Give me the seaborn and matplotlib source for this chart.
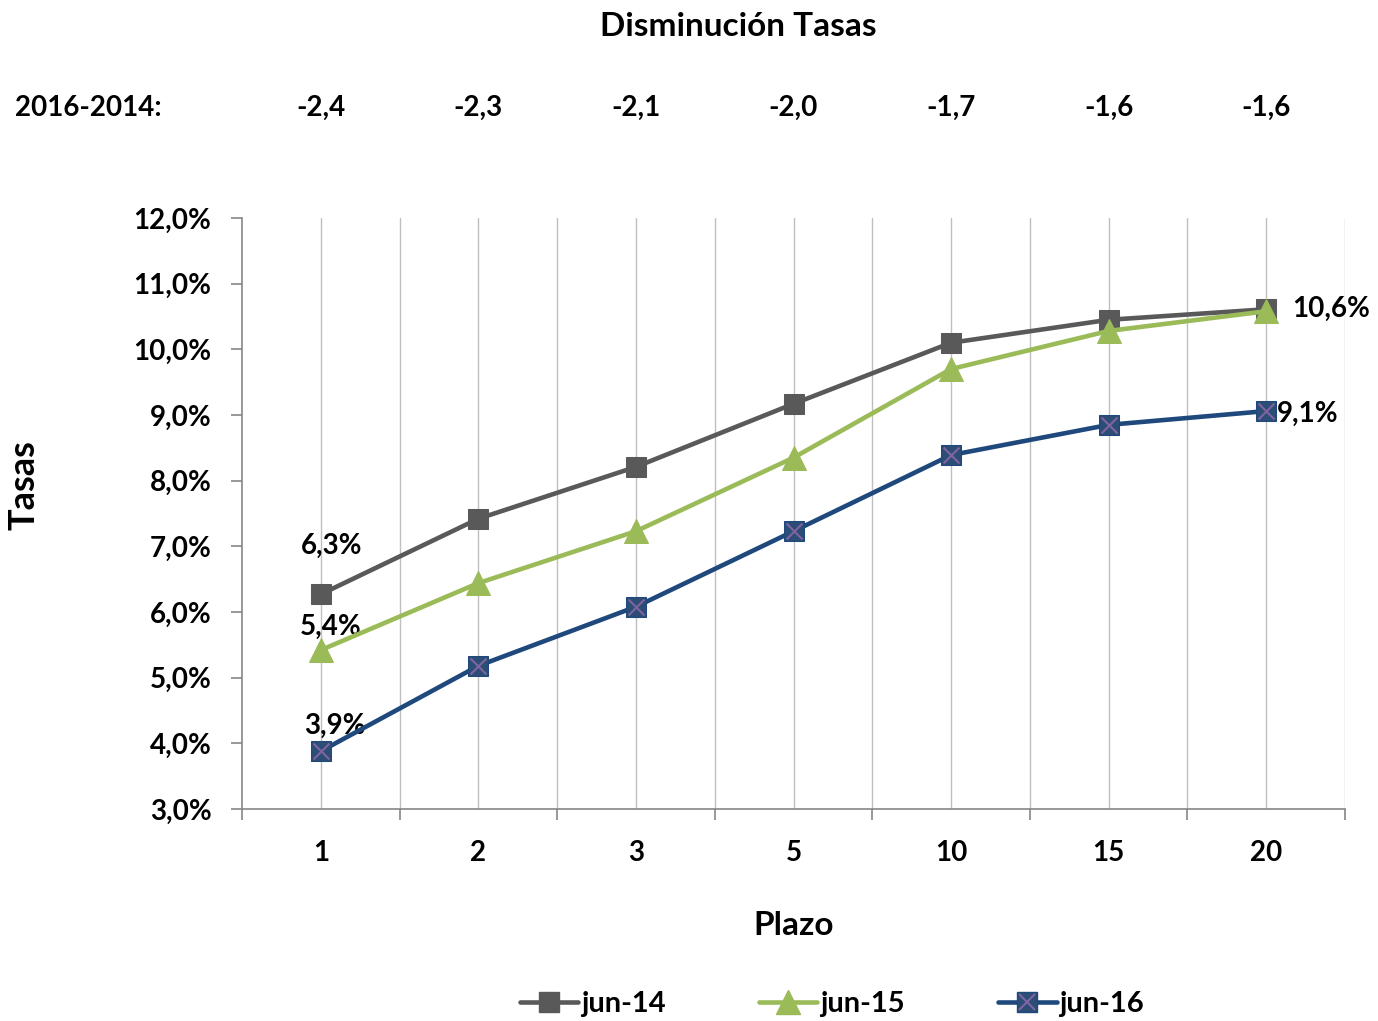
import matplotlib
matplotlib.use("Agg")
import matplotlib.pyplot as plt
import matplotlib.transforms as mtransforms
from matplotlib.lines import Line2D
import seaborn as sns
import pandas as pd

plazos = ["1", "2", "3", "5", "10", "15", "20"]
jun14 = [6.27, 7.42, 8.21, 9.17, 10.10, 10.45, 10.61]
jun15 = [5.42, 6.44, 7.23, 8.35, 9.70, 10.28, 10.58]
jun16 = [3.88, 5.18, 6.08, 7.23, 8.39, 8.85, 9.06]
diff_labels = ["-2,4", "-2,3", "-2,1", "-2,0", "-1,7", "-1,6", "-1,6"]
yticks = [3, 4, 5, 6, 7, 8, 9, 10, 11, 12]

sns.set_theme(style="white")
plt.rcParams["font.family"] = ["Lato", "DejaVu Sans"]
plt.rcParams["font.weight"] = "bold"
plt.rcParams["text.color"] = "black"
plt.rcParams["axes.labelcolor"] = "black"

c14, c15, c16 = "#595959", "#9BBB59", "#1F497D"
f16 = "#2C4D75"
xcol = "#8064A2"
FS = 20

fig = plt.figure(figsize=(13.78, 10.21), dpi=100)
ax = fig.add_axes([242/1378, 1-809/1021, (1345-242)/1378, (809-218)/1021])

pos = list(range(len(plazos)))
d14 = pd.DataFrame({"x": pos, "y": jun14})
d15 = pd.DataFrame({"x": pos, "y": jun15})
d16 = pd.DataFrame({"x": pos, "y": jun16})

sns.lineplot(data=d14, x="x", y="y", ax=ax, color=c14, lw=3.3, marker="s",
             markersize=15, markerfacecolor=c14, markeredgecolor=c14, zorder=3)
sns.lineplot(data=d15, x="x", y="y", ax=ax, color=c15, lw=3.3, marker="^",
             markersize=17, markerfacecolor=c15, markeredgecolor=c15, zorder=4)
sns.lineplot(data=d16, x="x", y="y", ax=ax, color=c16, lw=3.3, marker="s",
             markersize=15, markerfacecolor=f16, markeredgecolor=c16, zorder=5)
sns.scatterplot(data=d16, x="x", y="y", ax=ax, marker="x", s=130, color=xcol,
                linewidth=1.5, zorder=6)

ax.set_xlim(-0.5, len(plazos) - 0.5)
ax.set_ylim(3, 12)
ax.set_yticks(yticks)
ax.set_yticklabels([f"{v:.1f}%".replace(".", ",") for v in yticks], fontsize=FS, fontweight="bold")
ax.set_xticks(pos)
ax.set_xticklabels(plazos, fontsize=FS, fontweight="bold")
bounds = [p - 0.5 for p in pos] + [len(plazos) - 0.5]
ax.set_xticks(bounds, minor=True)

ax.grid(False)
for p in pos:
    ax.axvline(p, color="#BFBFBF", lw=1, zorder=1)
for b in bounds[1:]:
    ax.axvline(b, color="#BFBFBF", lw=1, zorder=1)

for s in ["top", "right"]:
    ax.spines[s].set_visible(False)
for s in ["left", "bottom"]:
    ax.spines[s].set_color("#868686")
    ax.spines[s].set_linewidth(1.2)
ax.tick_params(axis="x", which="major", length=0, pad=22, labelcolor="black")
ax.tick_params(axis="x", which="minor", length=8, width=1.2, color="#868686", direction="out", bottom=True)
ax.tick_params(axis="y", which="major", length=8, width=1.2, color="#868686", labelcolor="black",
               direction="out", left=True, pad=14)
ax.set_xlabel("Plazo", fontsize=24, fontweight="bold", color="black")
ax.set_ylabel("Tasas", fontsize=26, fontweight="bold", color="black")
ax.xaxis.set_label_coords(0.5, -0.172)
ax.yaxis.set_label_coords(-0.183, 0.548)

lab = dict(fontsize=FS, fontweight="bold", color="black")
ax.annotate("6,3%", (0, jun14[0]), xytext=(8, 35), textcoords="offset points", ha="center", va="center", **lab)
ax.annotate("5,4%", (0, jun15[0]), xytext=(7, 17), textcoords="offset points", ha="center", va="center", **lab)
ax.annotate("3,9%", (0, jun16[0]), xytext=(10, 18), textcoords="offset points", ha="center", va="center", **lab)
ax.annotate("10,6%", (6, jun14[6]), xytext=(19, 0), textcoords="offset points", ha="left", va="center", **lab)
ax.annotate("9,1%", (6, jun16[6]), xytext=(8, -2), textcoords="offset points", ha="left", va="center", **lab)

trans = mtransforms.blended_transform_factory(ax.transData, fig.transFigure)
for p, t in zip(pos, diff_labels):
    ax.text(p, 1 - 108/1021, t, transform=trans, ha="center", va="center", fontsize=FS, fontweight="bold")
fig.text(15/1378, 1 - 108/1021, "2016-2014:", ha="left", va="center", fontsize=FS, fontweight="bold")
fig.text(738/1378, 1 - 27/1021, "Disminución Tasas", ha="center", va="center", fontsize=24, fontweight="bold")

handles = [
    Line2D([], [], color=c14, lw=3.3, marker="s", markersize=15, markerfacecolor=c14, markeredgecolor=c14),
    Line2D([], [], color=c15, lw=3.3, marker="^", markersize=17, markerfacecolor=c15, markeredgecolor=c15),
    (Line2D([], [], color=c16, lw=3.3, marker="s", markersize=15, markerfacecolor=f16, markeredgecolor=c16),
     Line2D([], [], ls="none", marker="x", markersize=11, color=xcol, markeredgewidth=1.5)),
]
fig.legend(handles, ["jun-14", "jun-15", "jun-16"], loc="center", bbox_to_anchor=(832/1378, 1 - 1004/1021),
           ncol=3, frameon=False, handlelength=2.0, handletextpad=0.1, columnspacing=3.2,
           prop={"weight": "bold", "size": 21})

fig.savefig("out.png", dpi=100)
